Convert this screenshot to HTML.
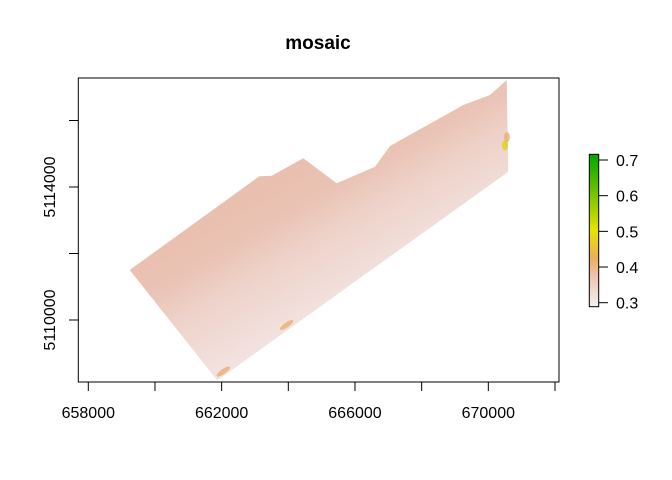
<!DOCTYPE html>
<html><head><meta charset="utf-8"><style>
body{margin:0;background:#fff;}
svg{display:block;font-family:"Liberation Sans",Arial,sans-serif;}
</style></head><body>
<svg id="c" width="672" height="480">
<defs>
<linearGradient id="fill" gradientUnits="userSpaceOnUse" x1="225" y1="190" x2="300" y2="320">
<stop offset="0" stop-color="#e9bfae"/><stop offset="0.35" stop-color="#eac3b4"/><stop offset="0.6" stop-color="#eed2c9"/><stop offset="1" stop-color="#f2e1de"/></linearGradient>
<linearGradient id="leg" x1="0" y1="1" x2="0" y2="0">
<stop offset="0" stop-color="#f2f2f2"/><stop offset="0.2" stop-color="#efc2b0"/><stop offset="0.32" stop-color="#ebae5c"/><stop offset="0.5" stop-color="#e6e300"/><stop offset="0.75" stop-color="#72c200"/><stop offset="1" stop-color="#00a600"/></linearGradient>
</defs>
<text x="318" y="49" text-anchor="middle" font-weight="bold" font-size="19">mosaic</text>
</svg>
<script>
const xTicks=[658000,660000,662000,664000,666000,668000,670000,672000];
const xLabels=["658000","662000","666000","670000"];
const yTicks=[5110000,5112000,5114000,5116000];
const yLabels=["5110000","5114000"];
const legendTicks=[0.3,0.4,0.5,0.6,0.7];
const outlineX=[659242,663130,663502,664450,665452,666601,667051,669250,670051,670552,670600,661870];
const outlineY=[5111504,5114322,5114340,5114863,5114111,5114611,5115233,5116466,5116767,5117218,5114460,5108183];
const patchX=[662050,663950,670500,670560];
const patchY=[5108450,5109850,5115250,5115500];
const patchV=[0.4,0.4,0.5,0.42];
const X=v=>88.3+(v-658000)*66.67/2000;
const Y=v=>187-(v-5114000)*33.25/1000;
const L=v=>302.7-(v-0.3)*(302.7-160)/0.4;
const svg=document.getElementById('c');const NS='http://www.w3.org/2000/svg';
function mk(t,a,p){const e=document.createElementNS(NS,t);for(const k in a)e.setAttribute(k,a[k]);(p||svg).appendChild(e);return e;}
let pts=outlineX.map((x,i)=>X(x).toFixed(1)+','+Y(outlineY[i]).toFixed(1)).join(' ');
const poly=mk('polygon',{points:pts,fill:'url(#fill)'});


patchX.forEach((x,i)=>{const col=patchV[i]>=0.5?'#e2d000':'#e9ac6e';
const e=mk('ellipse',{cx:X(x),cy:Y(patchY[i]),rx:i<2?8:3,ry:i<2?2.5:5,fill:col,opacity:0.75,transform:i<2?`rotate(-35 ${X(x)} ${Y(patchY[i])})`:''});

});
const box=mk('rect',{x:78.3,y:78,width:480.7,height:304,fill:'none',stroke:'#000','stroke-width':1});


xTicks.forEach(v=>{const t=mk('line',{x1:X(v),x2:X(v),y1:382,y2:391,stroke:'#000'});

});
xLabels.forEach(s=>{const t=mk('text',{x:X(+s),y:418,'text-anchor':'middle','font-size':16});t.textContent=s;

});
yTicks.forEach(v=>{const t=mk('line',{x1:69,x2:78.3,y1:Y(v),y2:Y(v),stroke:'#000'});

});
yLabels.forEach(s=>{const y=Y(+s);const t=mk('text',{x:55,y:y,'text-anchor':'middle','font-size':16,transform:`rotate(-90 55 ${y})`});t.textContent=s;

});
const lb=mk('rect',{x:589.3,y:L(0.7)-5.7,width:9.4,height:L(0.3)-L(0.7)+9.7,fill:'url(#leg)',stroke:'#000'});


legendTicks.forEach(v=>{const y=L(v);const t=mk('line',{x1:598.7,x2:608,y1:y,y2:y,stroke:'#000'});


const s=mk('text',{x:616,y:y+6,'font-size':16});s.textContent=v.toFixed(1);

});
</script>
</body></html>
